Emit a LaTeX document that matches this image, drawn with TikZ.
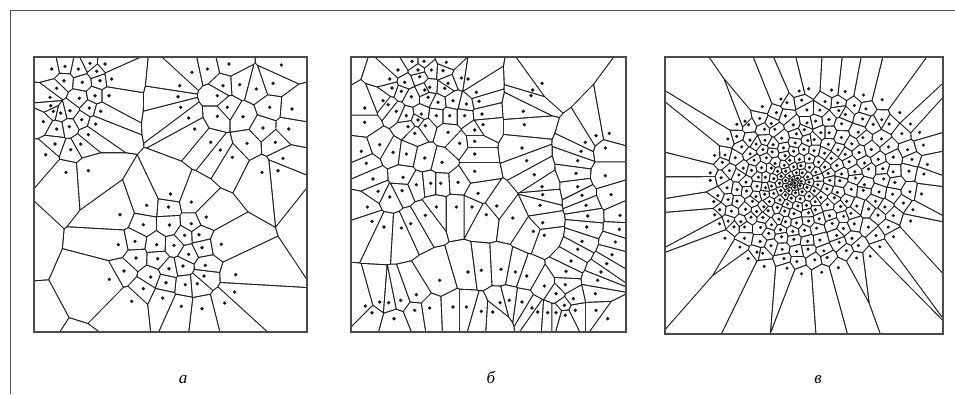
\documentclass[tikz,border=0pt]{standalone}
\usepackage{fontspec}
\setmainfont{Liberation Serif}
\usepackage{xcolor}
\definecolor{EdgeInk}{HTML}{141414}
\definecolor{FrameGray}{HTML}{555555}
\definecolor{BoxGray}{HTML}{4A4A4A}
\tikzset{
  panelbox/.style={draw=BoxGray, line width=1.2pt},
  framerule/.style={draw=FrameGray, line width=0.9pt},
  sitedot/.style={fill=EdgeInk},
  panellabel/.style={anchor=base, font=\fontsize{17}{17}\selectfont\itshape}
}
\makeatletter
\newcount\cellcx \newcount\cellcy \newcount\cellwx \newcount\cellwy
\newcount\cellwsq \newcount\cellrho \newcount\cellc
\newcount\cellsp \newcount\cellsc \newcount\cellpx \newcount\cellpy
\newcount\cellhi \newcount\celllo \newcount\celltmp
\newcount\celllastx \newcount\celllasty
\newtoks\cellpoly \newtoks\cellnew
\def\cellgapsp{39322}% half an edge, 0.6pt in sp
\def\cell@cyc{cycle}
\def\cell@add#1#2{%
  \edef\cell@tmp{\the\cellnew\noexpand\vtx{\number\numexpr#1\relax}{\number\numexpr#2\relax}}%
  \cellnew=\expandafter{\cell@tmp}}
\def\cell@cross#1#2{%
  \cell@add{\cellpx+(#1-\cellpx)*\cellsp/(\cellsp-\cellsc)}%
           {\cellpy+(#2-\cellpy)*\cellsp/(\cellsp-\cellsc)}}
\def\cell@clip#1#2{%
  \cellsc=\numexpr#1*\cellwx/4194304+#2*\cellwy/4194304-\cellc\relax
  \ifnum\cellsc>0
    \ifnum\cellsp>0 \else\cell@cross{#1}{#2}\fi
  \else
    \ifnum\cellsp>0 \cell@cross{#1}{#2}\fi
    \cell@add{#1}{#2}%
  \fi
  \cellpx=#1\relax \cellpy=#2\relax \cellsp=\cellsc}
\def\cell@measure#1#2{%
  \celltmp=\numexpr#1*#1/4194304+#2*#2/4194304\relax
  \ifnum\celltmp>\cellrho \cellrho=\celltmp\fi
  \celllastx=#1\relax \celllasty=#2\relax}
\def\cell@emit#1#2{%
  \edef\cell@tmp{\the\cellnew(\strip@pt\dimexpr\numexpr\cellcx+#1\relax sp\relax,%
    \strip@pt\dimexpr\numexpr\cellcy+#2\relax sp\relax) -- }%
  \cellnew=\expandafter{\cell@tmp}}
% cut the cell of the current site by the bisector with a site (in sp)
\def\cell@cut{%
  \cellhi=\cellwx \ifnum\cellhi<0 \cellhi=-\cellhi\fi
  \celllo=\cellwy \ifnum\celllo<0 \celllo=-\celllo\fi
  \ifnum\celllo>\cellhi \celltmp=\cellhi \cellhi=\celllo \celllo=\celltmp\fi
  \cellc=\numexpr\cellwsq/2-\cellgapsp*(\cellhi*24/25+\celllo*199/500)/4194304\relax
  \cellpx=\celllastx \cellpy=\celllasty
  \cellsp=\numexpr\cellpx*\cellwx/4194304+\cellpy*\cellwy/4194304-\cellc\relax
  \cellnew={}%
  \let\vtx\cell@clip \the\cellpoly
  \cellpoly=\cellnew
  \cellrho=0 \let\vtx\cell@measure \the\cellpoly
  \cellrho=\numexpr4*\cellrho\relax}
\def\cellcut#1#2{%
  \cellwx=\numexpr#1-\cellcx\relax
  \cellwy=\numexpr#2-\cellcy\relax
  \cellwsq=\numexpr\cellwx*\cellwx/4194304+\cellwy*\cellwy/4194304\relax
  \ifnum\cellwsq>0 \ifnum\cellwsq<\cellrho \cell@cut\fi\fi}
% #1 sites, #2 #3 #4 #5 the box
\newcommand{\voronoicells}[5]{%
  \fill[EdgeInk] (#2,#3) rectangle (#4,#5);
  \let\site\relax \let\vtx\relax
  \xdef\cellsites{}%
  \foreach \px/\py in #1 {%
    \xdef\cellsites{\cellsites\site{\number\dimexpr\px pt\relax}{\number\dimexpr\py pt\relax}}}%
  \foreach \px/\py in #1 {%
    \cellcx=\dimexpr\px pt\relax \cellcy=\dimexpr\py pt\relax
    \edef\cell@tmp{%
      \noexpand\vtx{\number\numexpr\dimexpr#2pt\relax-\cellcx\relax}{\number\numexpr\dimexpr#3pt\relax-\cellcy\relax}%
      \noexpand\vtx{\number\numexpr\dimexpr#4pt\relax-\cellcx\relax}{\number\numexpr\dimexpr#3pt\relax-\cellcy\relax}%
      \noexpand\vtx{\number\numexpr\dimexpr#4pt\relax-\cellcx\relax}{\number\numexpr\dimexpr#5pt\relax-\cellcy\relax}%
      \noexpand\vtx{\number\numexpr\dimexpr#2pt\relax-\cellcx\relax}{\number\numexpr\dimexpr#5pt\relax-\cellcy\relax}}%
    \cellpoly=\expandafter{\cell@tmp}%
    \cellrho=0 \let\vtx\cell@measure \the\cellpoly
    \cellrho=\numexpr4*\cellrho\relax
    \let\site\cellcut \cellsites
    \cellnew={}\let\vtx\cell@emit \the\cellpoly
    \edef\cell@path{\the\cellnew cycle}%
    \ifx\cell@path\cell@cyc\else\fill[white] \cell@path;\fi
  }}
\makeatother
% sites of panel a
\def\sitesA{51.7/69, 65/66.3, 78.3/69, 90/63.3, 96.7/71.3, 105/64, 111.7/79,
 64/80.7, 82.3/82.3, 100/80.7, 95/95.7, 109/95.7, 56.7/88.3, 79.3/98.3,
 50/97.3, 50.7/105.7, 53.3/111.3, 60.7/113, 70/110.7, 89.3/108, 100.7/111.3,
 43.3/121.7, 56.7/129, 69.3/126.7, 81.7/119.7, 95.7/124, 88.3/134.7, 55/144,
 70.7/149.7, 80.7/144, 45.7/154.7, 66/172.3, 88.3/170.7,
 192/72.3, 207.3/69, 229/64, 281.3/65, 179.7/85.7, 178/96.7, 180.7/107.3,
 188.7/118, 194.7/129, 223/85.7, 239.7/84.7, 256.3/89, 273/83.3, 217.3/95.7,
 227.3/107.3, 217.3/116.3, 243/116.7, 269.7/107.3, 292/109, 263/128,
 288.7/129, 275.3/142.3, 247/143.3, 210.7/142.3, 220.3/150, 232.3/157.3,
 283/158.3, 278/170.7, 262/172.3, 170.5/194,
 146.7/205.3, 168.5/207, 120/214.7, 143.3/224.7, 169.5/225, 118.3/244.7,
 135/241.3, 156.7/244.7, 136/258, 157.7/258.7, 124/271, 169/268.7,
 109.3/279.3, 150.7/277, 166/282.7, 143.3/288.7, 162.7/298, 131.7/301.3,
 191.3/202, 206.3/217, 191.3/223.7, 184.7/235.3, 199/234.7, 174/245.3,
 188.7/254.3, 202/247.7, 221.3/244.3, 183/266, 205.3/265.3, 204/276,
 185.3/284.7, 197.3/283.7, 235.7/274.7, 234.7/292, 224.7/303, 181.3/306.3,
 202/308.7}
\def\hiddenA{8/235, 15/330, 80/372, 330/212}
% sites of panel b
\def\sitesB{412/61.3, 424/61.3, 446.3/62.3, 398/70, 418/70, 431.3/70, 443/70.7,
 389.7/79, 404.7/82.3, 419.7/76.7, 429.7/87.3, 424.7/90, 448/83.3, 461.3/78,
 468/79, 392/88, 401.3/91.3, 444.7/88.3, 476.3/92.3, 383/100.7, 388/104.7,
 411.3/96.7, 428/97.3, 438/102.3, 453/100.7, 466.3/104, 479/101.3, 364.7/108,
 396.3/111.3, 406.3/115.7, 421.3/114, 436.3/115.7, 449.7/115.7, 464.7/115.7,
 482/114, 364.7/122.3, 408/126.7, 418/120, 425.3/125.7, 483/124.7,
 414.7/133.3, 448/132.3, 474.7/130, 379.7/144.7, 459.7/143.3, 474.7/141.3,
 361.3/151.3, 393/152.3, 406.3/154, 474.7/154, 366.3/163.3, 424.7/158,
 442/162.3, 474.7/171.3, 373/179, 403/177.3, 416.3/184.7, 430.7/183.3,
 440.7/183.3, 458/182.3, 378/191.3, 402/190.7, 478/193.3,
 542/83.3, 532.7/90, 531/95.7, 523.3/111.3, 524.3/124.7, 596/135.7,
 609.3/133.3, 585.3/142.3, 605.3/148, 581/151.3, 522/148, 526.7/160.7,
 577.7/160.7, 534.3/174.7, 576/173.3, 605.3/175.7, 542/186.7, 577.7/186.7,
 611/194.7, 542.7/194.7,
 389.7/197, 367.3/207, 372/221.3, 384/227, 401.3/228, 410.7/223.7,
 425.3/215.3, 436.3/207, 456.3/207, 472/207, 486.3/214.7, 439.7/280.3,
 468/272, 481.3/270.3, 416.3/294.7, 400.7/300.3, 388.7/302.7, 379.7/302,
 365.3/306, 372/312.7, 414.7/310.3, 429.7/308, 453/307, 466.3/307,
 481.3/311.3, 394/318.7,
 582/195.3, 496.7/206, 540/205.3, 586/205.3, 512.7/218, 587.7/216, 620/215.3,
 542.7/222.7, 586.7/227, 619.3/229.3, 533.3/231.3, 544.3/235.3, 582/241.3,
 615.3/242, 577.7/249.3, 612/254.7, 571/261, 606.7/263.7, 566/271.3, 601/272,
 501/269.3, 515.3/272, 526.7/276, 597.7/280.3, 544.3/286, 565.3/284.7,
 595.3/293.7, 556/293.7, 573.3/298.7, 500/302.7, 509.3/300.3, 522/302,
 532/308, 537.7/312, 547.7/312.7, 556/312.7, 565.3/315.3, 575.3/310.3,
 596/310.3, 492.7/312, 607.7/318.7, 564.3/305.3}
\def\hiddenB{338/62}
\edef\allA{\sitesA,\hiddenA}
\edef\allB{\sitesB,\hiddenB}

\begin{document}
\begin{tikzpicture}[x=1pt, y=-1pt]
  \useasboundingbox (0,0) rectangle (955,394);
  \draw[framerule] (10,394) -- (10,10) -- (955,10);

  % sites of panel c: rings round a dense core
  \pgfmathsetseed{11}
  \xdef\sitesC{795/183}
  \foreach \ringt/\ringn in {0.05/6, 0.11/11, 0.18/15, 0.26/19, 0.35/23,
      0.45/27, 0.55/30, 0.66/33, 0.77/35, 0.88/37, 1.00/38} {
    \pgfmathsetmacro\phase{360*rnd}
    \foreach \k in {1,...,\ringn} {
      \pgfmathsetmacro\ang{\phase+360*\k/\ringn+3*rand}
      \pgfmathsetmacro\ua{110*\ringt*(1+0.04*rand)*cos(\ang)}
      \pgfmathsetmacro\ub{90*\ringt*(1+0.04*rand)*sin(\ang)}
      \pgfmathsetmacro\sx{795+22*\ringt+\ua*cos(15)+\ub*sin(15)}
      \pgfmathsetmacro\sy{183-3*\ringt-\ua*sin(15)+\ub*cos(15)}
      \xdef\sitesC{\sitesC, \sx/\sy}
    }
  }

  \voronoicells{\allA}{34}{57}{307}{332}
  \voronoicells{\allB}{351}{57}{626}{332}
  \voronoicells{\sitesC}{665}{57}{943}{334}

  \foreach \px/\py in \sitesA {\fill[sitedot] (\px,\py) circle (1.8pt);}
  \foreach \px/\py in \sitesB {\fill[sitedot] (\px,\py) circle (1.8pt);}
  \foreach \px/\py in \sitesC {\fill[sitedot] (\px,\py) circle (1.7pt);}

  \draw[panelbox] (34,57) rectangle (307,332);
  \draw[panelbox] (351,57) rectangle (626,332);
  \draw[panelbox] (665,57) rectangle (943,334);

  \node[panellabel] (labA) at (183,383) {а};
  \node[panellabel] (labB) at (491,383) {б};
  \node[panellabel] (labC) at (818,383) {в};
\end{tikzpicture}
\end{document}
